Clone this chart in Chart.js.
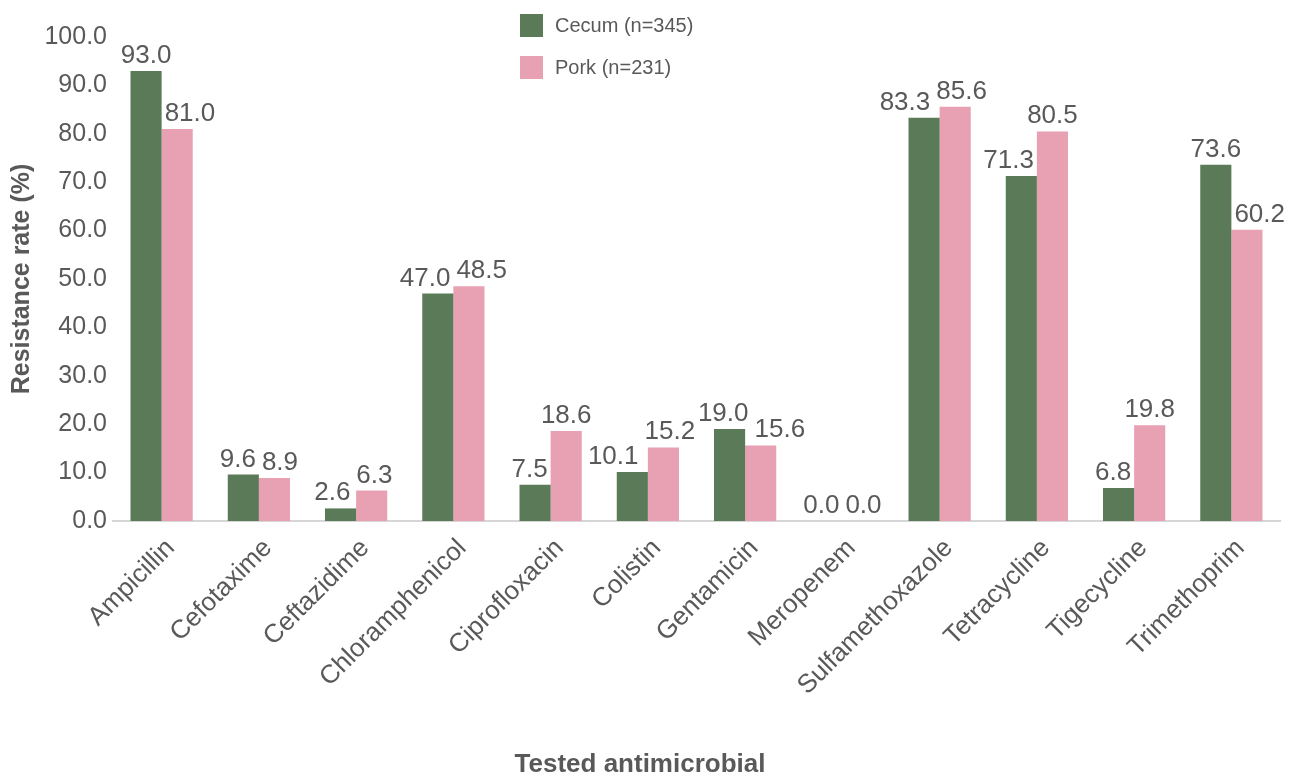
<!DOCTYPE html>
<html>
<head>
<meta charset="utf-8">
<script src="https://cdn.jsdelivr.net/npm/chart.js@4"></script>
<style>
  html, body { margin: 0; padding: 0; background: #ffffff; }
  #wrap { width: 1290px; height: 778px; position: relative; }
</style>
</head>
<body>
<div id="wrap"><canvas id="chart" width="1290" height="778"></canvas></div>
<script>
// Antimicrobial resistance rates (%) by isolate source
const antimicrobials = ['Ampicillin', 'Cefotaxime', 'Ceftazidime', 'Chloramphenicol', 'Ciprofloxacin',
  'Colistin', 'Gentamicin', 'Meropenem', 'Sulfamethoxazole', 'Tetracycline', 'Tigecycline', 'Trimethoprim'];
const cecumRates = [93.0, 9.6, 2.6, 47.0, 7.5, 10.1, 19.0, 0.0, 83.3, 71.3, 6.8, 73.6];
const porkRates  = [81.0, 8.9, 6.3, 48.5, 18.6, 15.2, 15.6, 0.0, 85.6, 80.5, 19.8, 60.2];
const seriesNames = ['Cecum (n=345)', 'Pork (n=231)'];
const yTicks = [0, 10, 20, 30, 40, 50, 60, 70, 80, 90, 100];

const GREEN = '#5b7b58';
const PINK = '#e8a0b3';
const TEXT = '#595959';
const FONT = '"Liberation Sans", Arial, Helvetica, sans-serif';
const LABEL_SIZE = 26;

// Value labels above each bar; a label that would sit over the
// neighbouring (taller) bar is moved clear of it, then the pair is
// pushed apart if the two labels still collide.
const valueLabels = {
  id: 'valueLabels',
  afterDatasetsDraw(chart) {
    const ctx = chart.ctx;
    ctx.save();
    ctx.font = LABEL_SIZE + 'px ' + FONT;
    ctx.fillStyle = TEXT;
    ctx.textAlign = 'center';
    ctx.textBaseline = 'alphabetic';
    const m0 = chart.getDatasetMeta(0), m1 = chart.getDatasetMeta(1);
    const d0 = chart.data.datasets[0].data, d1 = chart.data.datasets[1].data;
    const gap = 8, clear = 3;
    for (let i = 0; i < antimicrobials.length; i++) {
      const a = m0.data[i], b = m1.data[i];
      const ta = d0[i].toFixed(1), tb = d1[i].toFixed(1);
      const wa = ctx.measureText(ta).width, wb = ctx.measureText(tb).width;
      const ya = a.y - gap, yb = b.y - gap;
      const mid = (a.x + a.width / 2 + b.x - b.width / 2) / 2;
      let xa = a.x, xb = b.x;
      // left label sitting beside the taller right bar
      if (ya > b.y && xa + wa / 2 > mid - clear) xa = mid - clear - wa / 2;
      // right label sitting beside the taller left bar
      if (yb > a.y && xb - wb / 2 < mid + clear) xb = mid + clear + wb / 2;
      // labels at similar heights must not overlap each other
      if (Math.abs(ya - yb) < LABEL_SIZE) {
        const overlap = (xa + wa / 2 + 6) - (xb - wb / 2);
        if (overlap > 0) { xa -= overlap / 2; xb += overlap / 2; }
      }
      ctx.fillText(ta, xa, ya);
      ctx.fillText(tb, xb, yb);
    }
    ctx.restore();
  }
};

// Stacked legend drawn from the dataset labels and colours
const stackedLegend = {
  id: 'stackedLegend',
  afterDraw(chart) {
    const ctx = chart.ctx;
    ctx.save();
    ctx.font = '20px ' + FONT;
    ctx.textBaseline = 'middle';
    ctx.textAlign = 'left';
    chart.data.datasets.forEach((ds, k) => {
      const top = 14 + k * 42;
      ctx.fillStyle = ds.backgroundColor;
      ctx.fillRect(520, top, 23, 23);
      ctx.fillStyle = TEXT;
      ctx.fillText(ds.label, 555, top + 12);
    });
    ctx.restore();
  }
};

new Chart(document.getElementById('chart'), {
  type: 'bar',
  data: {
    labels: antimicrobials,
    datasets: [
      { label: seriesNames[0], data: cecumRates, backgroundColor: GREEN },
      { label: seriesNames[1], data: porkRates, backgroundColor: PINK }
    ]
  },
  options: {
    responsive: false,
    animation: false,
    layout: { padding: { top: 37, right: 10, bottom: 0, left: 0 } },
    datasets: { bar: { categoryPercentage: 0.64, barPercentage: 1.0 } },
    plugins: {
      legend: { display: false },
      tooltip: { enabled: false },
      title: {
        display: true,
        position: 'bottom',
        text: 'Tested antimicrobial',
        color: TEXT,
        font: { family: FONT, size: 26, weight: 'bold', lineHeight: 1.0 },
        padding: { top: 0, bottom: 0 }
      }
    },
    scales: {
      x: {
        grid: { display: false, drawTicks: false },
        border: { display: true, color: '#d6d6d6', width: 2 },
        ticks: {
          color: TEXT,
          font: { family: FONT, size: 26 },
          minRotation: 45,
          maxRotation: 45,
          padding: 12,
          labelOffset: 9,
          autoSkip: false
        },
        afterFit(scale) { scale.height = 778 - 521 - 26; }
      },
      y: {
        min: 0,
        max: 100,
        afterBuildTicks(scale) { scale.ticks = yTicks.map(v => ({ value: v })); },
        grid: { display: false, drawTicks: false },
        border: { display: false },
        ticks: {
          color: TEXT,
          font: { family: FONT, size: 25 },
          padding: 6,
          callback: v => Number(v).toFixed(1)
        },
        title: {
          display: true,
          text: 'Resistance rate (%)',
          color: TEXT,
          font: { family: FONT, size: 25, weight: 'bold', lineHeight: 1.2 },
          padding: { top: 7, bottom: 0 }
        },
        afterFit(scale) { scale.width = 113; }
      }
    }
  },
  plugins: [valueLabels, stackedLegend]
});
</script>
</body>
</html>
